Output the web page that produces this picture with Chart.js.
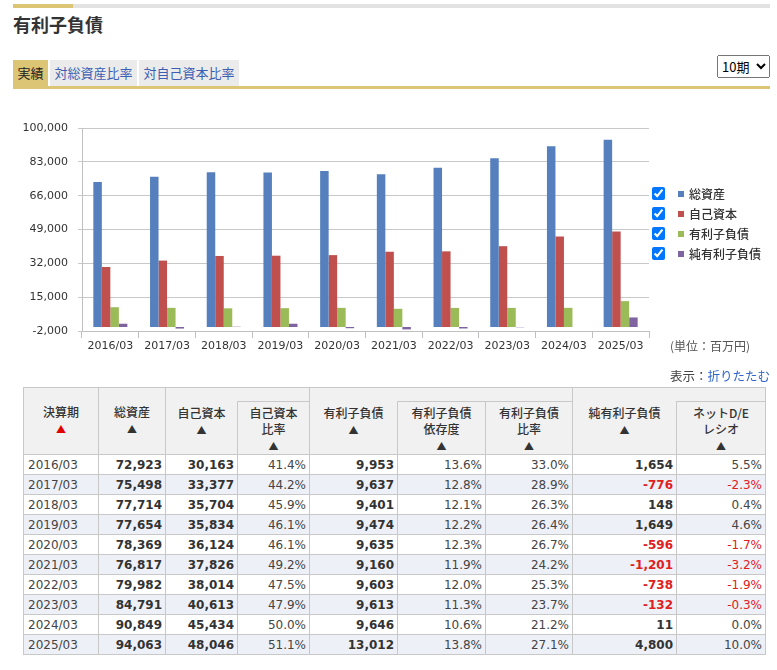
<!DOCTYPE html>
<html>
<head>
<meta charset="utf-8">
<script src="https://cdn.jsdelivr.net/npm/chart.js@4/dist/chart.umd.min.js"></script>
<style>
  body { margin: 0; background: #fff; font-family: "Noto Sans CJK JP", sans-serif; color: #333; }
  .abs { position: absolute; }
  #bar { left: 13px; top: 4px; width: 757px; height: 4px; background: #e2e2e2; }
  #bar div { width: 60px; height: 4px; background: #dcc574; }
  #title { left: 13px; top: 11px; font-size: 18px; font-weight: bold; line-height: 26px; color: #333; }
  .tab { top: 60px; height: 26px; line-height: 26px; font-size: 13px; background: #ebebeb; color: #3d5fb3; text-align: center; }
  #tabline { left: 13px; top: 86px; width: 757px; height: 3px; background: #dcc574; }
  #period { left: 717px; top: 55px; width: 53px; height: 23px; font-size: 13px; font-family: "Noto Sans CJK JP", sans-serif; }
  #chart { left: 0; top: 110px; }
  .leg { left: 652px; height: 20px; font-size: 12px; line-height: 20px; white-space: nowrap; font-weight: 500; }
  .leg input { position: absolute; left: 0; top: 3px; margin: 0; width: 13px; height: 13px; }
  .leg span.sq { position: absolute; left: 26px; top: 7px; width: 6px; height: 6px; }
  .leg span.tx { position: absolute; left: 37px; top: 0; }
  #unit { left: 670px; top: 337px; font-size: 12px; line-height: 18px; color: #555; }
  #fold { right: 7px; top: 367px; font-size: 12.5px; line-height: 18px; color: #444; }
  #fold a { color: #3366cc; text-decoration: none; }
  table { position: absolute; left: 23px; top: 387px; width: 742px; border-collapse: collapse; table-layout: fixed; }
  th, td { border: 1px solid #c8c8c8; padding: 0; }
  th { background: #f1f1f1; font-size: 12px; font-weight: 500; line-height: 16px; vertical-align: top; text-align: center; color: #333; padding-top: 3px; }
  th.top { padding-top: 16px; }
  th.g1 { border-bottom: hidden; border-right: hidden; }
  th.g2 { border-left: hidden; }
  th.gm { border-left: hidden; border-right: hidden; }
  th .tri { font-size: 10px; }
  th .red { color: #e00000; }
  tr.r1 th.g1, tr.r1 th.g2, tr.r1 th.gm { height: 13px; padding: 0; }
  td { height: 19px; font-family: "DejaVu Sans", sans-serif; font-size: 12px; text-align: right; padding-right: 3px; color: #444; }
  td.b { font-weight: bold; color: #333; }
  td.l { text-align: left; padding-left: 4px; padding-right: 0; }
  td.neg { color: #e02020; }
  tr.alt td { background: #eef0f8; }
</style>
</head>
<body>
<div id="bar" class="abs"><div></div></div>
<div id="title" class="abs">有利子負債</div>
<div class="abs tab" style="left:13px;width:35px;background:#dcc574;color:#222;">実績</div>
<div class="abs tab" style="left:50px;width:87px;">対総資産比率</div>
<div class="abs tab" style="left:139px;width:100px;">対自己資本比率</div>
<div id="tabline" class="abs"></div>
<select id="period" class="abs"><option>10期</option></select>
<canvas id="chart" class="abs" width="660" height="250"></canvas>
<div id="legend"></div>
<div id="unit" class="abs">(単位：百万円)</div>
<div id="fold" class="abs">表示：<a href="#">折りたたむ</a></div>
<table id="tbl"></table>
<script>
const periods = ["2016/03", "2017/03", "2018/03", "2019/03", "2020/03", "2021/03", "2022/03", "2023/03", "2024/03", "2025/03"];
const totalAssets = [72923, 75498, 77714, 77654, 78369, 76817, 79982, 84791, 90849, 94063];
const equity = [30163, 33377, 35704, 35834, 36124, 37826, 38014, 40613, 45434, 48046];
const equityRatio = [41.4, 44.2, 45.9, 46.1, 46.1, 49.2, 47.5, 47.9, 50.0, 51.1];
const debt = [9953, 9637, 9401, 9474, 9635, 9160, 9603, 9613, 9646, 13012];
const debtDependence = [13.6, 12.8, 12.1, 12.2, 12.3, 11.9, 12.0, 11.3, 10.6, 13.8];
const debtRatio = [33.0, 28.9, 26.3, 26.4, 26.7, 24.2, 25.3, 23.7, 21.2, 27.1];
const netDebt = [1654, -776, 148, 1649, -596, -1201, -738, -132, 11, 4800];
const netDE = [5.5, -2.3, 0.4, 4.6, -1.7, -3.2, -1.9, -0.3, 0.0, 10.0];
const yTicks = [-2000, 15000, 32000, 49000, 66000, 83000, 100000];
const seriesNames = ["総資産", "自己資本", "有利子負債", "純有利子負債"];
const seriesColors = ["#5580bd", "#c0504d", "#9bbb59", "#8064a2"];

const seriesData = [totalAssets, equity, debt, netDebt];

const chart = new Chart(document.getElementById("chart"), {
  type: "bar",
  data: {
    labels: periods,
    datasets: seriesData.map((d, i) => ({
      label: seriesNames[i],
      data: d,
      backgroundColor: seriesColors[i],
      borderWidth: 0,
      barPercentage: 1.0,
      categoryPercentage: 0.6,
    })),
  },
  options: {
    responsive: false,
    animation: false,
    layout: { padding: { top: 18, right: 11, left: 0, bottom: 0 } },
    plugins: { legend: { display: false }, tooltip: { enabled: false } },
    scales: {
      x: {
        grid: { drawOnChartArea: false, tickLength: 7, color: "#c0c0c0", offset: true },
        border: { color: "#c0c0c0" },
        ticks: { color: "#333", font: { family: "DejaVu Sans", size: 11 }, padding: 2, maxRotation: 0, autoSkip: false },
        afterFit: (s) => { s.height = 29; },
      },
      y: {
        min: -2000,
        max: 100000,
        afterBuildTicks: (s) => { s.ticks = yTicks.map((v) => ({ value: v })); },
        grid: { color: "#c8c8c8", tickLength: 4 },
        border: { color: "#c0c0c0" },
        ticks: {
          color: "#333",
          padding: 10,
          font: { family: "DejaVu Sans", size: 11 },
          callback: (v) => v.toLocaleString("en-US"),
        },
        afterFit: (s) => { s.width = 82; },
      },
    },
  },
});

// legend with checkboxes
const legend = document.getElementById("legend");
seriesNames.forEach((name, i) => {
  const row = document.createElement("div");
  row.className = "abs leg";
  row.style.top = (184 + i * 20) + "px";
  row.innerHTML = '<input type="checkbox" checked><span class="sq" style="background:' +
    seriesColors[i] + '"></span><span class="tx">' + name + "</span>";
  legend.appendChild(row);
});

// table
const fmt = (v) => v.toLocaleString("en-US");
const pct = (v) => v.toFixed(1) + "%";
let html =
  '<colgroup><col style="width:75px"><col style="width:67px"><col style="width:72px"><col style="width:72px">' +
  '<col style="width:88px"><col style="width:88px"><col style="width:87px"><col style="width:104px"><col style="width:89px"></colgroup>' +
  '<tr class="r1"><th rowspan="2" class="top">決算期<br><span class="tri red">▲</span></th>' +
  '<th rowspan="2" class="top">総資産<br><span class="tri">▲</span></th>' +
  '<th class="g1"></th><th class="g2"></th><th class="g1"></th><th class="gm"></th><th class="g2"></th><th class="g1"></th><th class="g2"></th></tr>' +
  '<tr><th>自己資本<br><span class="tri">▲</span></th><th>自己資本<br>比率<br><span class="tri">▲</span></th>' +
  '<th>有利子負債<br><span class="tri">▲</span></th><th>有利子負債<br>依存度<br><span class="tri">▲</span></th>' +
  '<th>有利子負債<br>比率<br><span class="tri">▲</span></th><th>純有利子負債<br><span class="tri">▲</span></th>' +
  '<th>ネットD/E<br>レシオ<br><span class="tri">▲</span></th></tr>';
periods.forEach((p, i) => {
  html += '<tr class="' + (i % 2 ? "alt" : "") + '">' +
    '<td class="l">' + p + "</td>" +
    '<td class="b">' + fmt(totalAssets[i]) + "</td>" +
    '<td class="b">' + fmt(equity[i]) + "</td>" +
    "<td>" + pct(equityRatio[i]) + "</td>" +
    '<td class="b">' + fmt(debt[i]) + "</td>" +
    "<td>" + pct(debtDependence[i]) + "</td>" +
    "<td>" + pct(debtRatio[i]) + "</td>" +
    '<td class="b' + (netDebt[i] < 0 ? " neg" : "") + '">' + fmt(netDebt[i]) + "</td>" +
    '<td class="' + (netDE[i] < 0 ? "neg" : "") + '">' + pct(netDE[i]) + "</td></tr>";
});
document.getElementById("tbl").innerHTML = html;
</script>
</body>
</html>
